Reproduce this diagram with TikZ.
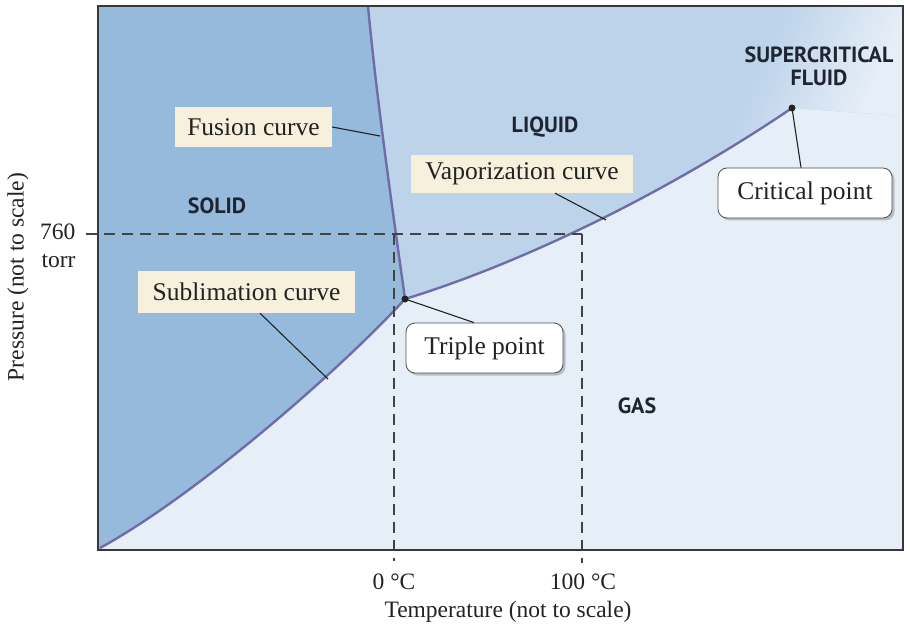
\documentclass[tikz,border=0pt]{standalone}
\usepackage{fontspec}
\setmainfont{Liberation Serif}
\newfontfamily\regfont{PT Sans}
\usetikzlibrary{calc,shadows}
\definecolor{solidc}{HTML}{95BADC}
\definecolor{liqc}{HTML}{BCD3EA}
\definecolor{gasc}{HTML}{E6EEF7}
\definecolor{curvec}{HTML}{6E6DAA}
\definecolor{tanc}{HTML}{F6F0DC}
\definecolor{inkc}{HTML}{222222}
\definecolor{regc}{HTML}{1F2433}
\tikzset{
  curveline/.style={draw=curvec, line width=2.4pt},
  leader/.style={draw=inkc, line width=1.1pt},
  dashline/.style={draw=inkc!85, line width=1.2pt, dash pattern=on 11pt off 7pt},
  tanbox/.style={fill=tanc, inner sep=0pt, font=\fontsize{25.5}{30}\selectfont, text=inkc},
  whitebox/.style={fill=white, draw=inkc!80, line width=0.8pt, rounded corners=9pt, inner sep=0pt,
    font=\fontsize{25.5}{30}\selectfont, text=inkc,
    drop shadow={opacity=0.35, shadow xshift=2.5pt, shadow yshift=-2.5pt, fill=black!60}},
  region/.style={font=\regfont\bfseries\fontsize{22}{24}\selectfont, text=regc, align=center},
  axlabel/.style={font=\fontsize{23.5}{26}\selectfont, text=inkc},
  dot/.style={circle, fill=inkc, inner sep=0pt, minimum size=7pt}
}
\begin{document}
\begin{tikzpicture}[x=1pt, y=-1pt]
\useasboundingbox (0,0) rectangle (910,631);
% background regions
\fill[gasc] (98,6) rectangle (903,550);
\fill[liqc] (368,6) .. controls (377,104) and (396,234) .. (405,299)
   .. controls (535,259) and (680,184) .. (792,108) -- (903,116) -- (903,6) -- cycle;
\begin{scope}
  \clip (368,6) .. controls (377,104) and (396,234) .. (405,299)
   .. controls (535,259) and (680,184) .. (792,108) -- (903,116) -- (903,6) -- cycle;
  \begin{scope}[transform canvas={xslant=0.44}]
    \shade[left color=liqc, right color=gasc] (786,-60) rectangle (910,220);
    \fill[gasc] (909,-60) rectangle (1100,220);
  \end{scope}
\end{scope}
\fill[solidc] (98,6) -- (368,6) .. controls (377,104) and (396,234) .. (405,299)
   .. controls (345,365) and (200,493) .. (100,548) -- (98,550) -- cycle;
% curves
\coordinate (ftop) at (368,6);
\coordinate (trip) at (405,299);
\coordinate (crit) at (792,108);
\coordinate (sorig) at (100,548);
\draw[curveline] (ftop) .. controls (377,104) and (396,234) .. (trip);
\draw[curveline] (sorig) .. controls (200,493) and (345,365) .. (trip);
\draw[curveline] (trip) .. controls (535,259) and (680,184) .. (crit);
% dashed guides
\coordinate (p760) at (86,234);
\coordinate (vap760) at (582,234);
\coordinate (z0) at (394,234);
\coordinate (z0b) at (394,561);
\coordinate (h0b) at (582,563);
\draw[dashline] (p760) -- (vap760);
\draw[dashline] (z0) -- (z0b);
\draw[dashline] (vap760) -- (h0b);
% frame
\draw[draw=inkc!90, line width=2.6pt] (98,6) rectangle (903,550);
% dots
\node[dot] (tripdot) at (trip) {};
\node[dot] (critdot) at (crit) {};
% region labels
\node[region] (solid) at (217,206) {SOLID};
\node[region] (liquid) at (545,127) {LIQUID};
\node[region] (gas) at (637,406) {GAS};
\node[region, inner sep=0pt] (scf) at (819,66) {SUPERCRITICAL\\[-1pt]FLUID};
% label boxes
\node[tanbox, minimum width=157pt, minimum height=40pt] (fus) at (253.5,127) {Fusion curve};
\node[tanbox, minimum width=217pt, minimum height=42pt] (sub) at (246.5,292) {Sublimation curve};
\node[tanbox, minimum width=222pt, minimum height=38pt] (vap) at (522,174) {Vaporization curve};
\node[whitebox, minimum width=174pt, minimum height=50pt] (critbox) at (805,193) {Critical point};
\node[whitebox, minimum width=157pt, minimum height=50pt] (tripbox) at (484.5,348) {Triple point};
% leaders
\coordinate (fusP) at (380,136);
\coordinate (subP) at (328,379);
\coordinate (vapP) at (606,220);
\draw[leader] (fus.east) -- (fusP);
\draw[leader] ($(sub.south)+(13.5,0)$) -- (subP);
\draw[leader] ($(vap.south)+(33,0)$) -- (vapP);
\draw[leader] (critdot.center) -- ($(critbox.north)+(-4,0)$);
\draw[leader] (tripdot.center) -- ($(tripbox.north)+(-10.5,0)$);
% axis labels
\node[axlabel, anchor=east] (l760) at (79,232) {760};
\node[axlabel, anchor=east] (ltorr) at (79,261) {torr};
\node[axlabel] (l0) at (394,582) {0 °C};
\node[axlabel] (l100) at (583,582) {100 °C};
\node[axlabel] (tlab) at (508,612) {Temperature (not to scale)};
\node[axlabel, rotate=90] (plab) at (18,277) {Pressure (not to scale)};
\end{tikzpicture}
\end{document}
